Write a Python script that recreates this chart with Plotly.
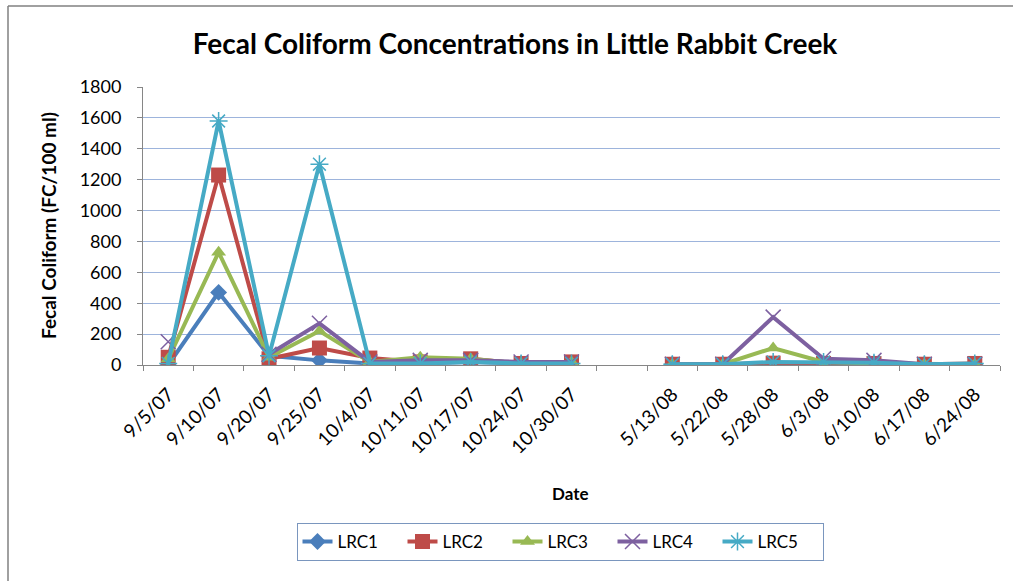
import plotly.graph_objects as go

dates = ["9/5/07", "9/10/07", "9/20/07", "9/25/07", "10/4/07", "10/11/07", "10/17/07",
         "10/24/07", "10/30/07", " ", "5/13/08", "5/22/08", "5/28/08", "6/3/08",
         "6/10/08", "6/17/08", "6/24/08"]

lrc1 = [0, 470, 60, 30, 10, 10, 20, 10, 10, None, 5, 5, 5, 10, 10, 5, 5]
lrc2 = [50, 1230, 40, 110, 45, 20, 40, 10, 20, None, 5, 5, 12, 10, 10, 5, 10]
lrc3 = [40, 730, 50, 220, 20, 50, 40, 10, 20, None, 5, 5, 110, 20, 10, 5, 5]
lrc4 = [150, None, 70, 270, 20, 30, 30, 20, 20, None, 5, 5, 310, 40, 30, 5, 5]
lrc5 = [10, 1580, 60, 1300, 10, 10, 20, 10, 10, None, 5, 5, 20, 20, 15, 5, 10]

series_names = ["LRC1", "LRC2", "LRC3", "LRC4", "LRC5"]
series_vals = [lrc1, lrc2, lrc3, lrc4, lrc5]
colors = ["#4A7EBB", "#BE4B48", "#98B954", "#7D60A0", "#46AAC5"]
symbols = ["diamond", "square", "triangle-up", "x-thin-open", "asterisk-open"]
sizes = [13, 15, 13, 15, 15]

FONT = "Lato, 'Open Sans', sans-serif"

fig = go.Figure()
for name, vals, col, sym, sz in zip(series_names, series_vals, colors, symbols, sizes):
    marker = dict(symbol=sym, size=sz, color=col)
    if sym.endswith("-open"):
        marker["line"] = dict(color=col, width=1.5)
    fig.add_trace(go.Scatter(
        x=dates, y=vals, name=name, mode="lines+markers",
        line=dict(color=col, width=4), marker=marker, connectgaps=False,
    ))

W, H = 1013, 581
L, R, T, B = 143, 13, 87, 216
pw, ph = W - L - R, H - T - B

def px(x):
    return (x - L) / pw

def py(y):
    return (H - B - y) / ph

fig.update_layout(
    width=W, height=H,
    margin=dict(l=L, r=R, t=T, b=B, autoexpand=False),
    paper_bgcolor="white", plot_bgcolor="white",
    font=dict(family=FONT, size=17, color="#000000"),
    title=dict(text="<b>Fecal Coliform Concentrations in Little Rabbit Creek</b>",
               xref="container", yref="container",
               x=515 / W, xanchor="center", y=1 - 44 / H, yanchor="middle",
               font=dict(family=FONT, size=28, color="#000000")),
    showlegend=True,
    legend=dict(orientation="h", x=px(560), xanchor="center", y=py(523), yanchor="top",
                bordercolor="#7A96BE", borderwidth=1, font=dict(family=FONT, size=17),
                entrywidth=60, tracegroupgap=0),
    xaxis=dict(type="category", categoryorder="array", categoryarray=dates,
               tickangle=-45, showgrid=False, showline=True, linecolor="#868686", linewidth=1,
               ticks="outside", tickson="boundaries", ticklen=5, tickcolor="#868686",
               ticklabelstandoff=10,
               tickfont=dict(family=FONT, size=19), range=[-0.5, len(dates) - 0.5]),
    yaxis=dict(range=[0, 1800], tickvals=list(range(0, 1801, 200)),
               showgrid=True, gridcolor="#9DB4DC", gridwidth=1.2,
               showline=True, linecolor="#868686", linewidth=1,
               ticks="outside", ticklen=5, tickcolor="#868686", ticklabelstandoff=12,
               tickfont=dict(family=FONT, size=18), zeroline=False),
    annotations=[
        dict(text="<b>Date</b>", x=px(570), y=py(493), xref="paper", yref="paper",
             xanchor="center", yanchor="middle",
             showarrow=False, font=dict(family=FONT, size=17)),
        dict(text="<b>Fecal Coliform (FC/100 ml)</b>", x=px(48), y=py(226), xref="paper", yref="paper",
             xanchor="center", yanchor="middle",
             showarrow=False, textangle=-90, font=dict(family=FONT, size=19)),
    ],
    shapes=[
        dict(type="line", xref="paper", yref="paper", x0=px(8), x1=px(8), y0=py(6), y1=py(581),
             line=dict(color="#808080", width=1.5)),
        dict(type="line", xref="paper", yref="paper", x0=px(8), x1=px(1013), y0=py(6), y1=py(6),
             line=dict(color="#808080", width=1.5)),
    ],
)

fig.write_html("out.html", config={"displayModeBar": False},
               post_script="document.body.style.margin='0px';")
